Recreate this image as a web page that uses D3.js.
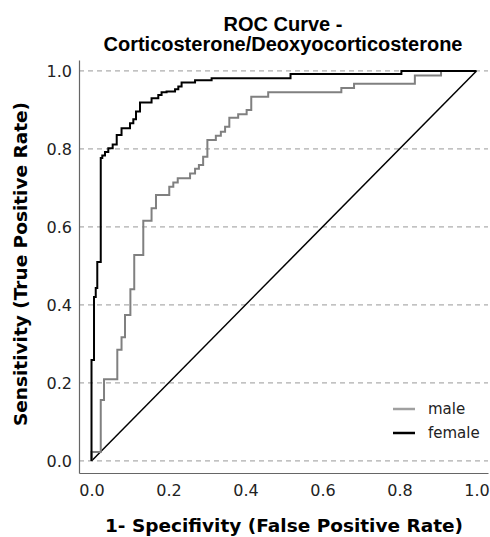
<!DOCTYPE html>
<html>
<head>
<meta charset="utf-8">
<script src="https://cdn.jsdelivr.net/npm/d3@7"></script>
<style>
  body { margin: 0; background: #fff; }
</style>
</head>
<body>
<div id="chart"></div>
<script>
// ROC points (false positive rate, true positive rate)
var maleFpr = [0, 0, 0.024, 0.0325, 0.067, 0.078, 0.087, 0.101, 0.111, 0.1345, 0.156, 0.1675,
  0.202, 0.2125, 0.224, 0.256, 0.269, 0.279, 0.290, 0.301, 0.323, 0.336, 0.347, 0.358,
  0.381, 0.403, 0.415, 0.459, 0.649, 0.682, 0.840, 0.908, 1.0];
var maleTpr = [0, 0.023, 0.156, 0.2095, 0.285, 0.317, 0.374, 0.440, 0.528, 0.616, 0.648, 0.682,
  0.703, 0.714, 0.725, 0.737, 0.749, 0.759, 0.780, 0.823, 0.834, 0.844, 0.857, 0.880,
  0.889, 0.900, 0.934, 0.945, 0.956, 0.967, 0.988, 1.0, 1.0];

var femaleFpr = [0, 0, 0.0065, 0.011, 0.015, 0.024, 0.028, 0.035, 0.0436, 0.055, 0.0655, 0.078,
  0.100, 0.1086, 0.1156, 0.126, 0.156, 0.1735, 0.182, 0.195, 0.217, 0.2255, 0.234, 0.269,
  0.312, 0.517, 0.805, 1.0];
var femaleTpr = [0, 0.259, 0.4205, 0.4436, 0.510, 0.777, 0.783, 0.792, 0.802, 0.8115, 0.836, 0.853,
  0.866, 0.876, 0.896, 0.919, 0.930, 0.938, 0.945, 0.947, 0.953, 0.960, 0.970, 0.976,
  0.981, 0.992, 1.0, 1.0];

var seriesNames = ["male", "female"];
var seriesColors = ["#808080", "#000000"];
var ticks = [0, 0.2, 0.4, 0.6, 0.8, 1.0];

var svgWidth = 490;
var svgHeight = 537;

var svg = d3.select("#chart")
  .append("svg")
  .attr("width", svgWidth)
  .attr("height", svgHeight);

// plot box
var plotLeft = 79, plotRight = 488, plotTop = 60, plotBottom = 473;

var xScale = d3.scaleLinear()
  .domain([-0.0325, 1.03])
  .range([plotLeft, plotRight]);

var yScale = d3.scaleLinear()
  .domain([-0.031, 1.028])
  .range([plotBottom, plotTop]);

// dashed grid lines
svg.append("g")
  .selectAll("line")
  .data(ticks)
  .enter()
  .append("line")
  .attr("x1", plotLeft)
  .attr("x2", plotRight)
  .attr("y1", d => yScale(d))
  .attr("y2", d => yScale(d))
  .attr("stroke", "#999")
  .attr("stroke-width", 1)
  .attr("stroke-dasharray", "5,4");

// axes
var xAxis = d3.axisBottom(xScale).tickValues(ticks).tickFormat(d3.format(".1f")).tickSize(0).tickPadding(12);
var yAxis = d3.axisLeft(yScale).tickValues(ticks).tickFormat(d3.format(".1f")).tickSize(0).tickPadding(7);

var gx = svg.append("g")
  .attr("transform", `translate(0, ${plotBottom})`)
  .call(xAxis);
var gy = svg.append("g")
  .attr("transform", `translate(${plotLeft}, 0)`)
  .call(yAxis);

[gx, gy].forEach(g => {
  g.select(".domain").attr("stroke", "#666").attr("stroke-width", 1.2);
  g.selectAll("text")
    .attr("font-family", "DejaVu Sans")
    .attr("font-size", "16px")
    .attr("fill", "#222");
});
gy.selectAll("text").attr("dy", "0.36em");

// reference diagonal
svg.append("line")
  .attr("x1", xScale(0))
  .attr("y1", yScale(0))
  .attr("x2", xScale(1))
  .attr("y2", yScale(1))
  .attr("stroke", "#000")
  .attr("stroke-width", 1.5);

// ROC curves
var line = d3.line()
  .x(d => xScale(d[0]))
  .y(d => yScale(d[1]))
  .curve(d3.curveStepAfter);

var series = [
  d3.zip(maleFpr, maleTpr),
  d3.zip(femaleFpr, femaleTpr)
];

svg.append("g")
  .selectAll("path")
  .data(series)
  .enter()
  .append("path")
  .attr("d", line)
  .attr("fill", "none")
  .attr("stroke", (d, i) => seriesColors[i])
  .attr("stroke-width", 2);

// legend
var legend = svg.append("g")
  .selectAll("g")
  .data(seriesNames)
  .enter()
  .append("g")
  .attr("transform", (d, i) => `translate(393, ${409 + i * 24})`);

legend.append("line")
  .attr("x1", 0)
  .attr("x2", 22)
  .attr("stroke", (d, i) => i === 0 ? "#a0a0a0" : "#000")
  .attr("stroke-width", 2.5);

legend.append("text")
  .attr("x", 35)
  .attr("dy", "0.35em")
  .attr("font-family", "DejaVu Sans")
  .attr("font-size", "15px")
  .attr("fill", "#222")
  .text(d => d);

// title
var title = svg.append("text")
  .attr("text-anchor", "middle")
  .attr("font-family", "Liberation Sans")
  .attr("font-weight", "bold")
  .attr("font-size", "20px")
  .attr("fill", "#000");
title.append("tspan").attr("x", 283).attr("y", 31).text("ROC Curve -");
title.append("tspan").attr("x", 283).attr("y", 51).text("Corticosterone/Deoxyocorticosterone");

// axis titles
svg.append("text")
  .attr("text-anchor", "middle")
  .attr("transform", "translate(284, 532)")
  .attr("font-family", "DejaVu Sans")
  .attr("font-weight", "bold")
  .attr("font-size", "18.5px")
  .attr("fill", "#000")
  .text("1- Specifivity (False Positive Rate)");

svg.append("text")
  .attr("text-anchor", "middle")
  .attr("transform", "translate(27, 264)rotate(-90)")
  .attr("font-family", "DejaVu Sans")
  .attr("font-weight", "bold")
  .attr("font-size", "18.5px")
  .attr("fill", "#000")
  .text("Sensitivity (True Positive Rate)");
</script>
</body>
</html>
